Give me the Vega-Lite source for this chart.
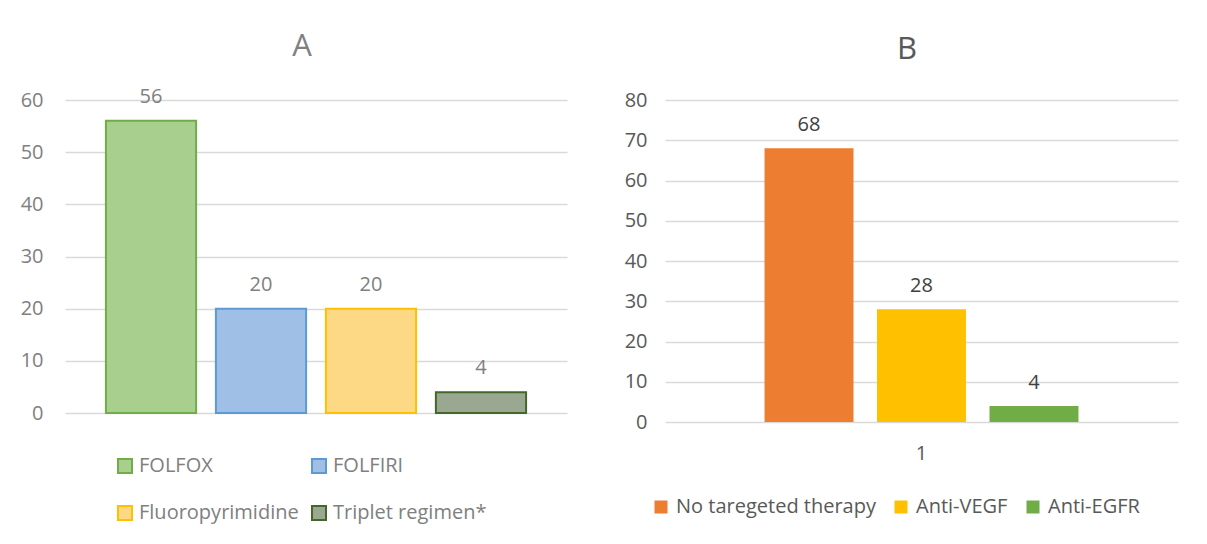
{
  "$schema": "https://vega.github.io/schema/vega-lite/v6.json",
  "background": "white",
  "padding": {"left": 20, "top": 30, "right": 29, "bottom": 0},
  "config": {
    "font": "Open Sans",
    "view": {"stroke": null},
    "axis": {"gridColor": "#d9d9d9", "gridWidth": 1.5, "domain": false, "ticks": false, "labelFontSize": 20, "labelFont": "Open Sans"}
  },
  "bounds": "flush",
  "spacing": 98,
  "resolve": {
    "scale": {"fill": "independent", "stroke": "independent", "x": "independent", "y": "independent", "xOffset": "independent"},
    "legend": {"fill": "independent", "stroke": "independent"}
  },
  "hconcat": [
    {
      "width": 502,
      "height": 313,
      "title": {"text": "A", "fontSize": 31, "fontWeight": "normal", "color": "#808080", "frame": "group", "anchor": "middle", "baseline": "alphabetic", "offset": 0, "dx": -14},
      "data": {"values": [
        {"regimen": "FOLFOX", "n": 56},
        {"regimen": "FOLFIRI", "n": 20},
        {"regimen": "Fluoropyrimidine", "n": 20},
        {"regimen": "Triplet regimen*", "n": 4}
      ]},
      "layer": [
        {
          "mark": {"type": "bar", "strokeWidth": 2},
          "encoding": {
            "x": {"field": "regimen", "type": "nominal", "sort": null, "scale": {"paddingInner": 0.18, "paddingOuter": 0.372}, "axis": null},
            "y": {"field": "n", "type": "quantitative", "scale": {"domain": [0, 60]}, "axis": {"values": [0, 10, 20, 30, 40, 50, 60], "labelColor": "#808080", "labelPadding": 22, "grid": true, "title": null}},
            "fill": {"field": "regimen", "type": "nominal", "sort": null,
              "scale": {"domain": ["FOLFOX", "FOLFIRI", "Fluoropyrimidine", "Triplet regimen*"], "range": ["#a9cf8f", "#a0bfe6", "#fed985", "#9aa892"]},
              "legend": {"orient": "none", "legendX": 50, "legendY": 356, "direction": "horizontal", "columns": 2, "title": null, "symbolType": "square", "symbolSize": 196, "symbolStrokeWidth": 2, "labelFontSize": 20, "labelColor": "#808080", "labelLimit": 300, "rowPadding": 25, "columnPadding": 9, "labelOffset": 4, "padding": 0}},
            "stroke": {"field": "regimen", "type": "nominal", "sort": null,
              "scale": {"domain": ["FOLFOX", "FOLFIRI", "Fluoropyrimidine", "Triplet regimen*"], "range": ["#70ad47", "#5b9bd5", "#ffc000", "#43682b"]},
              "legend": {"orient": "none", "legendX": 50, "legendY": 356, "direction": "horizontal", "columns": 2, "title": null, "symbolType": "square", "symbolSize": 196, "symbolStrokeWidth": 2, "labelFontSize": 20, "labelColor": "#808080", "labelLimit": 300, "rowPadding": 25, "columnPadding": 9, "labelOffset": 4, "padding": 0}}
          }
        },
        {
          "mark": {"type": "text", "baseline": "alphabetic", "dy": -18, "fontSize": 20, "color": "#808080"},
          "encoding": {
            "x": {"field": "regimen", "type": "nominal", "sort": null},
            "y": {"field": "n", "type": "quantitative"},
            "text": {"field": "n", "type": "quantitative"}
          }
        }
      ]
    },
    {
      "width": 513,
      "height": 322,
      "title": {"text": "B", "fontSize": 31, "fontWeight": "normal", "color": "#595959", "frame": "group", "anchor": "middle", "baseline": "alphabetic", "offset": 0, "dx": -14.5},
      "data": {"values": [
        {"group": "1", "therapy": "No taregeted therapy", "n": 68},
        {"group": "1", "therapy": "Anti-VEGF", "n": 28},
        {"group": "1", "therapy": "Anti-EGFR", "n": 4}
      ]},
      "layer": [
        {
          "mark": {"type": "bar"},
          "encoding": {
            "x": {"field": "group", "type": "nominal", "scale": {"paddingInner": 0, "paddingOuter": 0}, "axis": {"labelAngle": 0, "title": null, "labelColor": "#595959", "labelPadding": 21, "grid": false}},
            "xOffset": {"field": "therapy", "type": "nominal", "sort": null, "scale": {"domain": ["No taregeted therapy", "Anti-VEGF", "Anti-EGFR"], "paddingInner": 0.209, "paddingOuter": 0.885}},
            "y": {"field": "n", "type": "quantitative", "scale": {"domain": [0, 80]}, "axis": {"values": [0, 10, 20, 30, 40, 50, 60, 70, 80], "labelColor": "#595959", "labelPadding": 18, "grid": true, "title": null}},
            "fill": {"field": "therapy", "type": "nominal", "sort": null,
              "scale": {"domain": ["No taregeted therapy", "Anti-VEGF", "Anti-EGFR"], "range": ["#ed7d31", "#ffc000", "#70ad47"]},
              "legend": {"orient": "none", "legendX": -14, "legendY": 397, "direction": "horizontal", "title": null, "symbolType": "square", "symbolSize": 169, "symbolStrokeWidth": 0, "labelFontSize": 20, "labelColor": "#595959", "labelLimit": 400, "columnPadding": 15, "labelOffset": 5, "padding": 0}}
          }
        },
        {
          "mark": {"type": "text", "baseline": "alphabetic", "dy": -17, "fontSize": 20, "color": "#404040"},
          "encoding": {
            "x": {"field": "group", "type": "nominal"},
            "xOffset": {"field": "therapy", "type": "nominal", "sort": null},
            "y": {"field": "n", "type": "quantitative"},
            "text": {"field": "n", "type": "quantitative"}
          }
        }
      ]
    }
  ]
}
